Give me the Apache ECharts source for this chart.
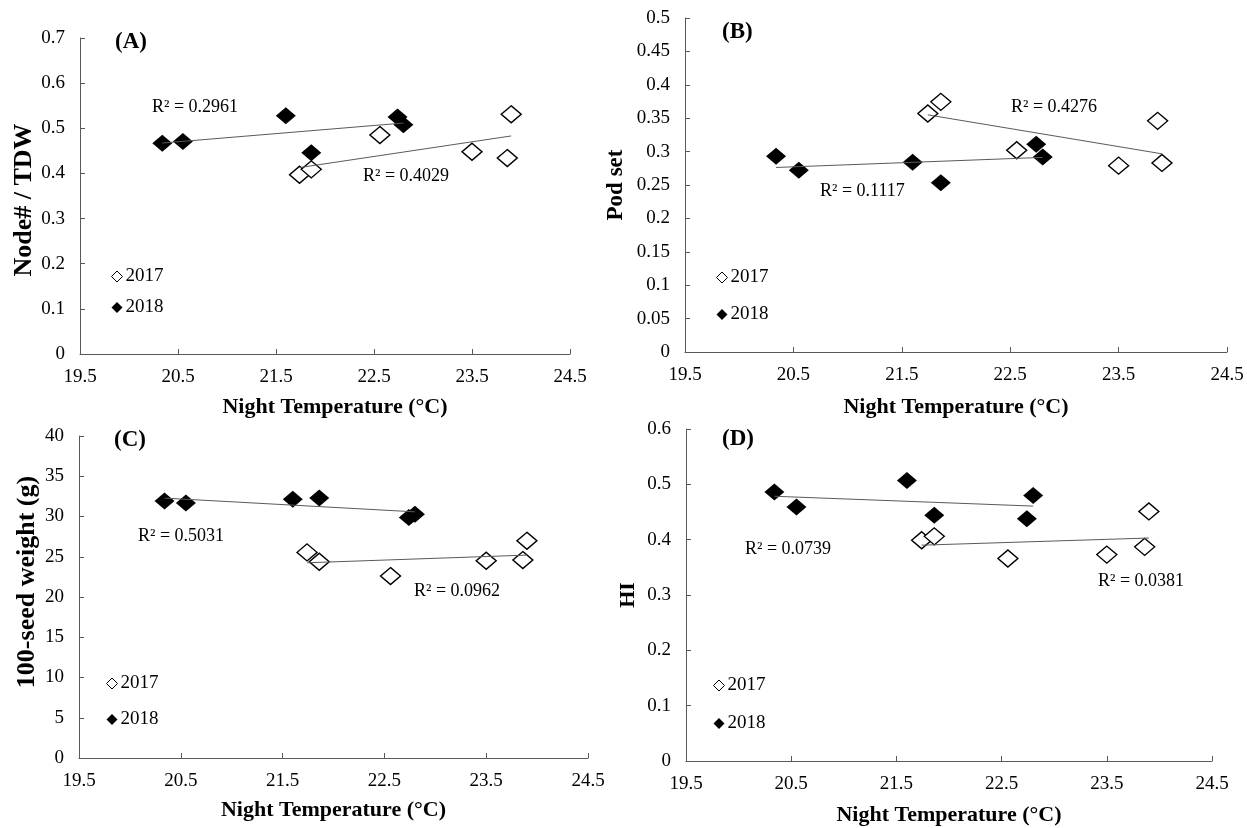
<!DOCTYPE html>
<html>
<head>
<meta charset="utf-8">
<script src="https://cdn.jsdelivr.net/npm/echarts@6/dist/echarts.min.js"></script>
<style>
html,body{margin:0;padding:0;background:#fff;}
#chart{width:1247px;height:828px;}
</style>
</head>
<body>
<div id="chart"></div>
<script>
// ---- data ----
const years = ['2017', '2018'];
const panelLabels = ['(A)', '(B)', '(C)', '(D)'];
const yTitles = ['Node# / TDW', 'Pod set', '100-seed weight (g)', 'HI'];
const xTitle = 'Night Temperature (\u00B0C)';
const tempTicks = [19.5, 20.5, 21.5, 22.5, 23.5, 24.5];

const temp2017 = [21.74, 21.86, 22.56, 23.50, 23.86, 23.90];
const temp2018 = [20.34, 20.55, 21.60, 21.86, 22.74, 22.80];

const nodeTdw2017 = [0.397, 0.409, 0.485, 0.448, 0.434, 0.531];
const nodeTdw2018 = [0.467, 0.471, 0.528, 0.446, 0.525, 0.508];

const podSet2017 = [0.357, 0.3745, 0.302, 0.279, 0.346, 0.283];
const podSet2018 = [0.293, 0.272, 0.284, 0.2535, 0.311, 0.292];

const seedWt2017 = [25.54, 24.38, 22.60, 24.50, 24.59, 26.98];
const seedWt2018 = [31.94, 31.69, 32.15, 32.31, 29.88, 30.29];

const hi2017 = [0.399, 0.406, 0.366, 0.373, 0.387, 0.451];
const hi2018 = [0.486, 0.459, 0.507, 0.444, 0.438, 0.480];

const yMax = [0.7, 0.5, 40, 0.6];
const yStep = [0.1, 0.05, 5, 0.1];

const r2Text2017 = ['R\u00B2 = 0.4029', 'R\u00B2 = 0.4276', 'R\u00B2 = 0.0962', 'R\u00B2 = 0.0381'];
const r2Text2018 = ['R\u00B2 = 0.2961', 'R\u00B2 = 0.1117', 'R\u00B2 = 0.5031', 'R\u00B2 = 0.0739'];

// ---- layout (not data) ----
const values2017 = [nodeTdw2017, podSet2017, seedWt2017, hi2017];
const values2018 = [nodeTdw2018, podSet2018, seedWt2018, hi2018];
const grids = [
  {left: 80, top: 38, width: 490, height: 316},
  {left: 685, top: 18, width: 542, height: 334},
  {left: 79, top: 436, width: 509, height: 322},
  {left: 686, top: 429, width: 526, height: 332}
];
const xNameGap = [42, 44, 41, 43];
const xNamePad = [[0,0,0,20], 0, 0, 0];
const yNameGap = [43, 57, 39, 47];
const yNameSize = [26, 23, 26, 22];
const yNamePad = [[0,8,0,0], 0, [0,0,0,30], 0];
const labelPos = [{left:115, top:31}, {left:722, top:21}, {left:114, top:429}, {left:722, top:428}];
const r2Pos2017 = [{left:363, top:167}, {left:1011, top:98}, {left:414, top:582}, {left:1098, top:572}];
const r2Pos2018 = [{left:152, top:98}, {left:820, top:182}, {left:138, top:527}, {left:745, top:540}];
const legendPos = [
  {left: 111, top: 267, itemGap: 12},
  {left: 716, top: 268, itemGap: 18},
  {left: 106, top: 674, itemGap: 17},
  {left: 713, top: 676, itemGap: 19}
];

const SERIF = '"Liberation Serif", "Times New Roman", serif';
const AXIS_COLOR = '#595959';

function zip(xs, ys) { return xs.map((x, i) => [x, ys[i]]); }
function trend(xs, ys) {
  const n = xs.length;
  const mx = xs.reduce((a, b) => a + b, 0) / n;
  const my = ys.reduce((a, b) => a + b, 0) / n;
  let sxy = 0, sxx = 0;
  for (let i = 0; i < n; i++) { sxy += (xs[i] - mx) * (ys[i] - my); sxx += (xs[i] - mx) * (xs[i] - mx); }
  const b = sxy / sxx, a = my - b * mx;
  const x0 = Math.min(...xs), x1 = Math.max(...xs);
  return [[x0, a + b * x0], [x1, a + b * x1]];
}

const option = {
  animation: false,
  backgroundColor: '#fff',
  grid: grids.map(g => Object.assign({containLabel: false}, g)),
  xAxis: grids.map((g, i) => ({
    type: 'value', gridIndex: i, min: 19.5, max: 24.5,
    name: xTitle, nameLocation: 'middle', nameGap: xNameGap[i],
    nameTextStyle: {fontFamily: SERIF, fontSize: 22, fontWeight: 'bold', color: '#000', padding: xNamePad[i]},
    axisLine: {show: true, onZero: false, lineStyle: {color: AXIS_COLOR, width: 1}},
    axisTick: {show: true, inside: true, length: 5, customValues: tempTicks, lineStyle: {color: AXIS_COLOR}},
    axisLabel: {customValues: tempTicks, fontFamily: SERIF, fontSize: 19, color: '#000', margin: 14,
      formatter: v => v.toFixed(1)},
    splitLine: {show: false}
  })),
  yAxis: grids.map((g, i) => ({
    type: 'value', gridIndex: i, min: 0, max: yMax[i], interval: yStep[i],
    name: yTitles[i], nameLocation: 'middle', nameGap: yNameGap[i], nameRotate: 90,
    nameTextStyle: {fontFamily: SERIF, fontSize: yNameSize[i], fontWeight: 'bold', color: '#000', padding: yNamePad[i]},
    axisLine: {show: true, onZero: false, lineStyle: {color: AXIS_COLOR, width: 1}},
    axisTick: {show: true, inside: true, length: 5, lineStyle: {color: AXIS_COLOR}},
    axisLabel: {fontFamily: SERIF, fontSize: 19, color: '#000', margin: 15,
      formatter: v => String(parseFloat(v.toFixed(3)))},
    splitLine: {show: false}
  })),
  title: [].concat(
    panelLabels.map((t, i) => ({text: t, left: labelPos[i].left, top: labelPos[i].top, padding: 0,
      textStyle: {fontFamily: SERIF, fontSize: 23, fontWeight: 'bold', color: '#000'}})),
    r2Text2017.map((t, i) => ({text: t, left: r2Pos2017[i].left, top: r2Pos2017[i].top, padding: 0,
      textStyle: {fontFamily: SERIF, fontSize: 18, fontWeight: 'normal', color: '#000'}})),
    r2Text2018.map((t, i) => ({text: t, left: r2Pos2018[i].left, top: r2Pos2018[i].top, padding: 0,
      textStyle: {fontFamily: SERIF, fontSize: 18, fontWeight: 'normal', color: '#000'}}))
  ),
  legend: legendPos.map(p => ({
    orient: 'vertical', left: p.left, top: p.top, itemGap: p.itemGap, padding: 0,
    selectedMode: false, itemWidth: 11, itemHeight: 11,
    textStyle: {fontFamily: SERIF, fontSize: 19, color: '#000', lineHeight: 18, padding: [0, 0, 0, -2]},
    data: [
      {name: years[0], icon: 'diamond', itemStyle: {color: '#fff', borderColor: '#000', borderWidth: 1}},
      {name: years[1], icon: 'diamond', itemStyle: {color: '#000', borderWidth: 0}}
    ]
  })),
  series: []
};

for (let i = 0; i < 4; i++) {
  option.series.push({
    name: years[0], type: 'scatter', xAxisIndex: i, yAxisIndex: i,
    symbol: 'diamond', symbolSize: [20, 17], z: 2,
    itemStyle: {color: '#fff', borderColor: '#000', borderWidth: 1.4, opacity: 1},
    data: zip(temp2017, values2017[i])
  });
  option.series.push({
    name: years[1], type: 'scatter', xAxisIndex: i, yAxisIndex: i,
    symbol: 'diamond', symbolSize: [20, 17], z: 2,
    itemStyle: {color: '#000', borderColor: '#000', borderWidth: 0, opacity: 1},
    data: zip(temp2018, values2018[i])
  });
  option.series.push({
    name: 'trend ' + years[0] + ' ' + i, type: 'line', xAxisIndex: i, yAxisIndex: i,
    symbol: 'none', z: 3, silent: true,
    lineStyle: {color: '#5a5a5a', width: 1},
    data: trend(temp2017, values2017[i])
  });
  option.series.push({
    name: 'trend ' + years[1] + ' ' + i, type: 'line', xAxisIndex: i, yAxisIndex: i,
    symbol: 'none', z: 3, silent: true,
    lineStyle: {color: '#5a5a5a', width: 1},
    data: trend(temp2018, values2018[i])
  });
}

const chart = echarts.init(document.getElementById('chart'), null, {renderer: 'canvas'});
chart.setOption(option);
</script>
</body>
</html>
